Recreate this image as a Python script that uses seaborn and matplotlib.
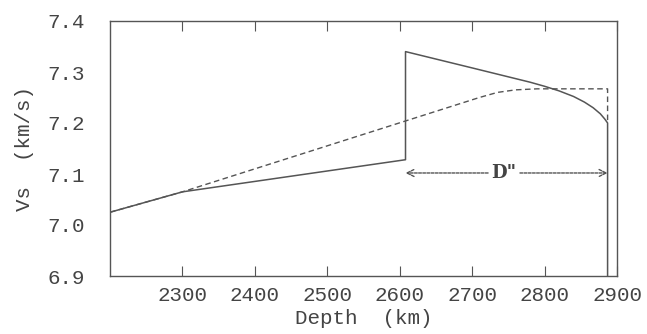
import matplotlib
matplotlib.use("Agg")
import matplotlib.pyplot as plt
import seaborn as sns

# solid model (with D'' discontinuity)
solid_depth = [2200, 2300, 2608, 2608, 2700, 2780, 2800, 2820, 2840, 2855, 2867, 2877, 2883, 2887, 2887]
solid_vs = [7.025, 7.065, 7.128, 7.340, 7.308, 7.280, 7.272, 7.263, 7.252, 7.241, 7.230, 7.218, 7.208, 7.200, 6.850]

# dashed reference model
dashed_depth = [2200, 2300, 2710, 2735, 2760, 2790, 2887, 2887]
dashed_vs = [7.025, 7.065, 7.250, 7.260, 7.265, 7.267, 7.267, 7.200]

x_ticks = [2300, 2400, 2500, 2600, 2700, 2800, 2900]
y_ticks = [6.9, 7.0, 7.1, 7.2, 7.3, 7.4]

sns.set_style("white")
plt.rcParams['font.family'] = ['Liberation Mono', 'DejaVu Sans Mono']

line_col = "#555555"
text_col = "#444444"

fig = plt.figure(figsize=(6.47, 3.34), dpi=100)
ax = fig.add_axes([110 / 647, 1 - 276 / 334, 507 / 647, 255 / 334])

sns.lineplot(x=solid_depth, y=solid_vs, sort=False, estimator=None,
             color=line_col, linewidth=1.1, ax=ax)
sns.lineplot(x=dashed_depth, y=dashed_vs, sort=False, estimator=None,
             color=line_col, linewidth=1.0, linestyle=(0, (4, 2.5)), ax=ax)

ax.set_xlim(2200, 2900)
ax.set_ylim(6.9, 7.4)
ax.set_xticks(x_ticks)
ax.set_yticks(y_ticks)
ax.set_yticklabels([f"{v:.1f}" for v in y_ticks])
ax.tick_params(axis='x', direction='in', length=7, width=0.8, color=line_col,
               top=True, bottom=True, labelsize=15, labelcolor=text_col, pad=7)
ax.tick_params(axis='y', length=0, labelsize=15, labelcolor=text_col, pad=18)

for s in ax.spines.values():
    s.set_color(line_col)
    s.set_linewidth(1.0)

ax.set_xlabel("Depth  (km)", fontsize=15, color=text_col, labelpad=3)
ax.set_ylabel("Vs  (km/s)", fontsize=15, color=text_col, labelpad=10)

# D'' annotation
arrow_y = 7.102
arrow_props = dict(arrowstyle='->,head_length=0.5,head_width=0.25', linestyle=(0, (2, 1)),
                   color=line_col, lw=1.0, shrinkA=0, shrinkB=0)
ax.annotate("", xy=(2608, arrow_y), xytext=(2722, arrow_y), arrowprops=arrow_props)
ax.annotate("", xy=(2887, arrow_y), xytext=(2766, arrow_y), arrowprops=arrow_props)
ax.text(2744, arrow_y, "D\"", ha='center', va='center', fontsize=13,
        fontweight='bold', color=text_col, family=['DejaVu Serif'])

fig.savefig("out.png", dpi=100)
